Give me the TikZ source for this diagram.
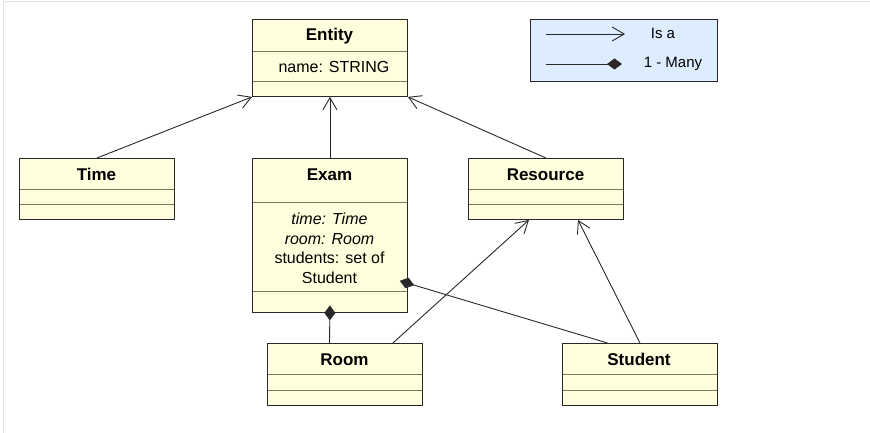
\documentclass[tikz,border=0pt]{standalone}
\usepackage{fontspec}
\setmainfont{Liberation Sans}
\usetikzlibrary{arrows.meta,calc}
\definecolor{clsfill}{RGB}{255,255,221}
\definecolor{clsdraw}{RGB}{40,40,40}
\definecolor{divdraw}{RGB}{120,120,100}
\definecolor{legfill}{RGB}{221,236,255}
\definecolor{framegray}{RGB}{228,228,228}
\tikzset{
  clsbox/.style={draw=clsdraw, fill=clsfill, line width=0.9pt, inner sep=0pt, minimum width=155pt, anchor=north west},
  divline/.style={draw=divdraw, line width=0.9pt},
  title/.style={font=\fontsize{17}{20}\selectfont\bfseries, inner sep=0pt},
  attr/.style={font=\fontsize{16}{19.5}\selectfont, inner sep=0pt, align=center},
  legtext/.style={font=\fontsize{15}{18}\selectfont, inner sep=0pt},
  isa/.style={draw=clsdraw, line width=0.9pt, -{Straight Barb[length=12pt,width=14pt,line width=0.9pt]}},
  many/.style={draw=clsdraw, line width=0.9pt, -{Diamond[length=15pt,width=11pt]}},
}
\begin{document}
\begin{tikzpicture}[x=1pt,y=-1pt]
\useasboundingbox (0,0) rectangle (870,433);
\draw[framegray, line width=1.5pt] (3.5,433) -- (3.5,1.5) -- (870,1.5);

% Entity
\node[clsbox, minimum height=77pt] (entity) at (252,19) {};
\draw[divline] (252,51) -- (407,51);
\draw[divline] (252,81) -- (407,81);
\node[title] (entityT) at (329.5,36) {Entity};
\node[attr] (entityA) at (334,66.5) {name: STRING};
\draw[clsdraw, line width=0.9pt] (entity.north west) rectangle (entity.south east);

% Time
\node[clsbox, minimum height=61pt] (time) at (19,158) {};
\draw[divline] (19,189) -- (174,189);
\draw[divline] (19,204) -- (174,204);
\node[title] (timeT) at (96.5,174.5) {Time};
\draw[clsdraw, line width=0.9pt] (time.north west) rectangle (time.south east);

% Exam
\node[clsbox, minimum height=154pt] (exam) at (252,158) {};
\draw[divline] (252,202) -- (407,202);
\draw[divline] (252,291) -- (407,291);
\node[title] (examT) at (329.5,175) {Exam};
\node[attr] (examA) at (329.5,248.5) {\itshape time: Time\\ \itshape room: Room\\ students: set of\\ Student};
\draw[clsdraw, line width=0.9pt] (exam.north west) rectangle (exam.south east);

% Resource
\node[clsbox, minimum height=61pt] (resource) at (468,158) {};
\draw[divline] (468,189) -- (623,189);
\draw[divline] (468,204) -- (623,204);
\node[title] (resourceT) at (545.5,174.5) {Resource};
\draw[clsdraw, line width=0.9pt] (resource.north west) rectangle (resource.south east);

% Room
\node[clsbox, minimum height=62pt] (room) at (267,343) {};
\draw[divline] (267,374) -- (422,374);
\draw[divline] (267,390) -- (422,390);
\node[title] (roomT) at (344.5,359.5) {Room};
\draw[clsdraw, line width=0.9pt] (room.north west) rectangle (room.south east);

% Student
\node[clsbox, minimum height=62pt] (student) at (562,343) {};
\draw[divline] (562,374) -- (717,374);
\draw[divline] (562,390) -- (717,390);
\node[title] (studentT) at (639,359.5) {Student};
\draw[clsdraw, line width=0.9pt] (student.north west) rectangle (student.south east);

% Legend
\node[draw=clsdraw, fill=legfill, line width=0.9pt, minimum width=187pt, minimum height=62pt, inner sep=0pt, anchor=north west] (legend) at (530,19) {};
\coordinate (l1a) at (546,34);
\coordinate (l1b) at (625,34);
\coordinate (l2a) at (546,64);
\coordinate (l2b) at (622,64);
\draw[isa] (l1a) -- (l1b);
\draw[many] (l2a) -- (l2b);
\node[legtext] (isaT) at (663,33.5) {Is a};
\node[legtext] (manyT) at (673,64) {1 - Many};

% Is-a connectors
\draw[isa] (time.north) -- (entity.south west);
\draw[isa] (exam.north) -- (entity.south);
\draw[isa] (resource.north) -- (entity.south east);
\coordinate (roomTop) at ($(room.north east)+(-30,0)$);
\coordinate (resBotL) at ($(resource.south)+(-17,0)$);
\draw[isa] (roomTop) -- (resBotL);
\coordinate (resBotR) at ($(resource.south)+(32,0)$);
\draw[isa] (student.north) -- (resBotR);

% 1-many connectors
\coordinate (roomJoin) at ($(room.north west)+(62.5,0)$);
\coordinate (examBot) at ($(exam.south)+(0,-7.5)$);
\draw[many] (roomJoin) -- (examBot);
\coordinate (studJoin) at ($(student.north)+(-32.5,0)$);
\coordinate (examSide) at (407,283);
\draw[many] (studJoin) -- ($(examSide)!-7.5pt!(studJoin)$);
\end{tikzpicture}
\end{document}
